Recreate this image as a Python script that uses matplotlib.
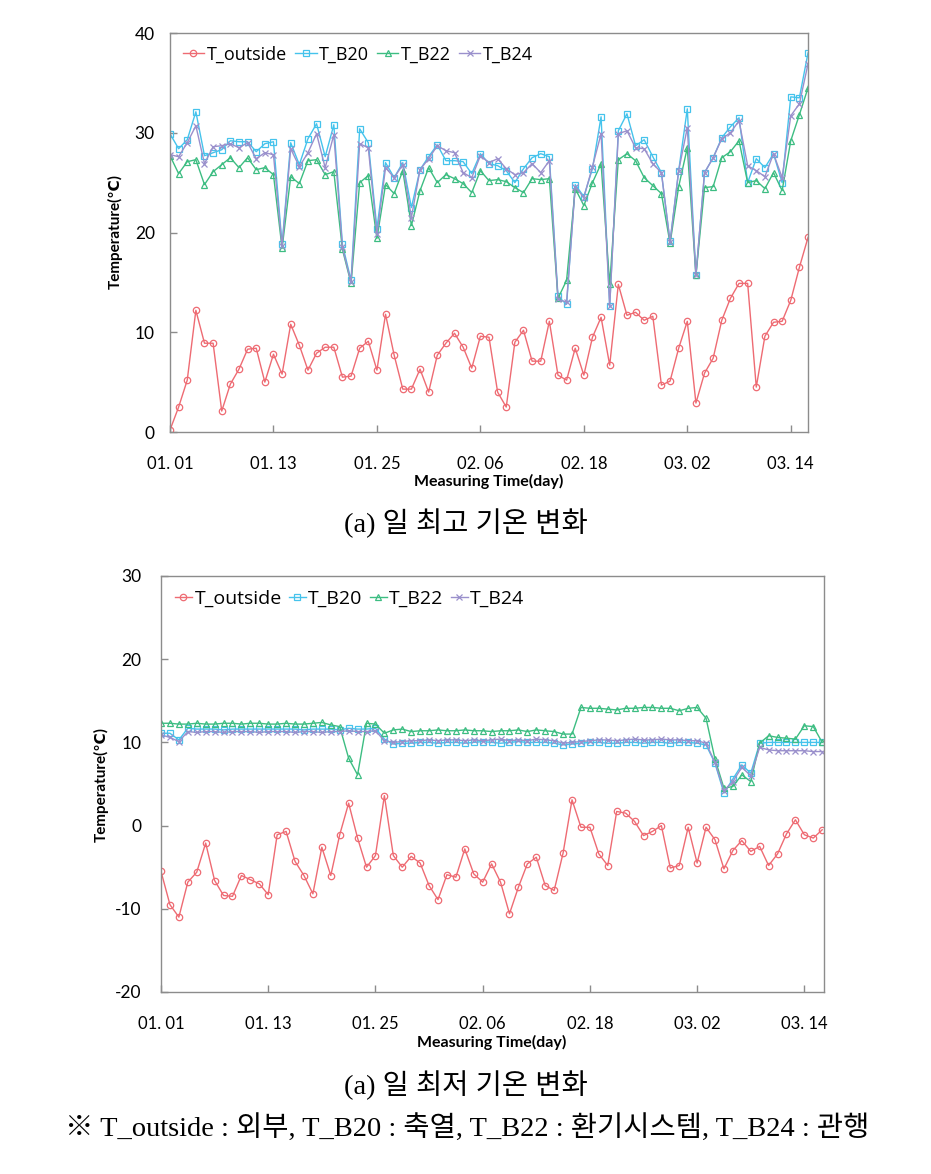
import matplotlib
matplotlib.use("Agg")
import matplotlib.pyplot as plt

# ---------------- data ----------------
tick_labels = ['01. 01', '01. 13', '01. 25', '02. 06', '02. 18', '03. 02', '03. 14']
series_names = ['T_outside', 'T_B20', 'T_B22', 'T_B24']

# (a) daily maximum temperature
max_outside = [0.2, 2.5, 5.2, 12.2, 8.9, 8.9, 2.1, 4.8, 6.3, 8.3,
               8.4, 5.0, 7.8, 5.8, 10.8, 8.7, 6.2, 7.9, 8.5, 8.5,
               5.5, 5.6, 8.4, 9.1, 6.2, 11.8, 7.7, 4.3, 4.3, 6.3,
               4.0, 7.7, 8.9, 9.9, 8.5, 6.4, 9.6, 9.5, 4.0, 2.5,
               9.0, 10.2, 7.1, 7.1, 11.1, 5.7, 5.2, 8.4, 5.7, 9.5,
               11.5, 6.7, 14.8, 11.7, 12.0, 11.2, 11.6, 4.7, 5.1, 8.4,
               11.1, 2.9, 5.9, 7.4, 11.2, 13.4, 14.9, 14.9, 4.5, 9.6,
               11.0, 11.1, 13.2, 16.5, 19.5]
max_b20 = [29.9, 28.4, 29.3, 32.1, 27.7, 28.0, 28.3, 29.2, 29.1, 29.1,
           28.1, 28.9, 29.1, 18.8, 29.0, 26.8, 29.4, 30.9, 27.6, 30.8,
           18.8, 15.2, 30.4, 29.0, 20.4, 27.0, 25.5, 27.0, 22.5, 26.3,
           27.6, 28.8, 27.2, 27.2, 27.1, 25.9, 27.9, 26.9, 26.7, 26.2,
           25.0, 26.4, 27.5, 27.9, 27.6, 13.6, 12.8, 24.8, 23.6, 26.4,
           31.6, 12.6, 30.2, 31.9, 28.7, 29.3, 27.6, 26.0, 19.1, 26.2,
           32.4, 15.7, 26.0, 27.5, 29.5, 30.6, 31.5, 25.0, 27.4, 26.5,
           27.9, 25.0, 33.6, 33.5, 38.0]
max_b22 = [27.7, 25.9, 27.1, 27.3, 24.8, 26.1, 26.8, 27.5, 26.5, 27.5,
           26.3, 26.5, 25.8, 18.4, 25.6, 24.9, 27.2, 27.3, 25.8, 26.1,
           18.3, 14.9, 25.0, 25.7, 19.4, 24.8, 23.9, 26.2, 20.7, 24.2,
           26.5, 25.0, 25.8, 25.4, 24.9, 24.0, 26.2, 25.2, 25.3, 25.1,
           24.5, 24.0, 25.4, 25.3, 25.4, 13.4, 15.2, 24.4, 22.7, 25.0,
           26.9, 14.8, 27.3, 27.9, 27.2, 25.5, 24.7, 23.9, 18.9, 24.6,
           28.5, 15.7, 24.5, 24.6, 27.5, 28.1, 29.2, 25.0, 25.2, 24.4,
           26.0, 24.2, 29.2, 31.8, 34.5]
max_b24 = [27.8, 27.6, 29.0, 30.7, 26.9, 28.6, 28.7, 28.9, 28.5, 29.0,
           27.4, 28.0, 27.8, 18.6, 28.4, 26.6, 28.0, 29.9, 26.5, 29.8,
           18.5, 15.0, 28.9, 28.5, 19.8, 26.5, 25.5, 26.8, 21.5, 26.3,
           27.4, 28.7, 28.2, 28.0, 26.0, 25.5, 27.7, 27.0, 27.4, 26.4,
           25.8, 26.0, 26.9, 26.0, 27.2, 13.3, 13.0, 24.6, 23.5, 26.6,
           29.9, 12.6, 29.9, 30.2, 28.5, 28.4, 26.9, 26.0, 19.0, 26.2,
           30.5, 15.7, 26.0, 27.5, 29.4, 30.0, 31.2, 26.7, 26.2, 25.6,
           27.9, 25.5, 31.7, 32.9, 36.9]

# (b) daily minimum temperature
min_outside = [-5.5, -9.5, -11.0, -6.8, -5.6, -2.1, -6.6, -8.4, -8.5, -6.0,
               -6.5, -7.0, -8.3, -1.1, -0.7, -4.3, -6.0, -8.2, -2.6, -6.0,
               -1.1, 2.7, -1.5, -5.0, -3.6, 3.6, -3.6, -5.0, -3.7, -4.5,
               -7.2, -8.9, -5.9, -6.2, -2.8, -5.8, -6.8, -4.6, -6.8, -10.6,
               -7.4, -4.6, -3.8, -7.2, -7.8, -3.3, 3.1, -0.2, -0.2, -3.4,
               -4.8, 1.7, 1.5, 0.5, -1.2, -0.7, 0.0, -5.1, -4.8, -0.2,
               -4.5, -0.2, -1.7, -5.2, -3.0, -1.8, -3.1, -2.5, -4.8, -3.4,
               -1.0, 0.7, -1.1, -1.5, -0.5]
min_b20 = [11.1, 11.1, 10.3, 11.7, 11.6, 11.6, 11.6, 11.5, 11.6, 11.6,
           11.6, 11.6, 11.6, 11.6, 11.6, 11.6, 11.5, 11.6, 11.6, 11.6,
           11.5, 11.7, 11.6, 11.6, 11.7, 10.4, 9.8, 9.9, 9.9, 10.0,
           10.0, 9.9, 10.0, 10.0, 9.9, 10.0, 10.1, 10.0, 9.9, 10.0,
           10.1, 10.0, 10.0, 10.0, 9.9, 9.7, 9.8, 9.9, 10.0, 10.0,
           9.9, 9.9, 10.0, 10.0, 9.9, 10.0, 10.0, 9.9, 10.0, 10.0,
           9.9, 9.7, 7.5, 3.9, 5.6, 7.3, 6.3, 9.9, 10.0, 10.0,
           10.0, 10.0, 10.0, 10.0, 10.0]
min_b22 = [12.3, 12.3, 12.2, 12.2, 12.3, 12.2, 12.2, 12.3, 12.3, 12.2,
           12.3, 12.3, 12.2, 12.2, 12.3, 12.2, 12.2, 12.3, 12.4, 12.1,
           11.9, 8.1, 6.1, 12.3, 12.2, 11.1, 11.5, 11.6, 11.3, 11.4,
           11.4, 11.5, 11.4, 11.4, 11.5, 11.4, 11.4, 11.3, 11.4, 11.4,
           11.5, 11.3, 11.5, 11.4, 11.3, 11.0, 11.0, 14.2, 14.1, 14.1,
           14.0, 13.9, 14.1, 14.1, 14.2, 14.2, 14.1, 14.1, 13.8, 14.1,
           14.2, 12.9, 8.0, 4.5, 4.7, 6.1, 5.3, 9.9, 10.8, 10.6,
           10.5, 10.4, 12.0, 11.9, 10.0]
min_b24 = [10.9, 10.6, 10.1, 11.3, 11.2, 11.3, 11.3, 11.2, 11.3, 11.3,
           11.3, 11.2, 11.3, 11.3, 11.3, 11.2, 11.3, 11.3, 11.2, 11.3,
           11.3, 11.4, 11.3, 11.3, 11.4, 10.2, 10.0, 10.1, 10.2, 10.2,
           10.3, 10.2, 10.3, 10.3, 10.2, 10.3, 10.2, 10.3, 10.4, 10.2,
           10.3, 10.2, 10.4, 10.3, 10.2, 9.9, 10.0, 10.1, 10.2, 10.3,
           10.3, 10.2, 10.3, 10.4, 10.3, 10.3, 10.4, 10.3, 10.3, 10.2,
           10.2, 9.9, 7.6, 4.2, 5.3, 7.0, 6.0, 9.4, 9.1, 9.0,
           9.0, 9.0, 9.0, 8.9, 8.9]

# ---------------- style ----------------
colors = ['#EE6B73', '#45C3EC', '#3DBD82', '#9A90CC']
markers = ['o', 's', '^', 'x']
axis_gray = '#8C8C8C'
lat_font = ['Lato', 'DejaVu Sans']
kr_font = ['Liberation Serif', 'Noto Sans CJK KR', 'DejaVu Sans']

W, H = 931, 1174
fig = plt.figure(figsize=(W / 100, H / 100), dpi=100)


def box(l, t, r, b):
    return [l / W, 1 - b / H, (r - l) / W, (b - t) / H]


def draw(ax, data, ylim, yticks, xmax, ytick_pad, xtick_pad, leg_size, hl, cs):
    x = list(range(len(data[0])))
    for vals, c, m, name in zip(data, colors, markers, series_names):
        ax.plot(x, vals, color=c, lw=1.0, marker=m, ms=4.6 if m != 'x' else 4.2,
                mfc='none', mec=c, mew=0.9, label=name)
    ax.set_xlim(0, xmax)
    ax.set_ylim(*ylim)
    ax.set_yticks(yticks)
    ax.set_yticklabels([str(v) for v in yticks], family=lat_font, fontsize=12.5)
    ax.set_xticks(list(range(0, 73, 12)))
    ax.set_xticklabels(tick_labels, family=lat_font, fontsize=12)
    for s in ax.spines.values():
        s.set_color(axis_gray)
        s.set_linewidth(1.0)
    ax.tick_params(axis='both', direction='in', length=5, color=axis_gray, width=1.0)
    ax.tick_params(axis='y', pad=ytick_pad)
    ax.tick_params(axis='x', pad=xtick_pad)
    ax.legend(loc='upper left', ncol=4, frameon=False, handlelength=hl,
              handletextpad=0.12, columnspacing=cs,
              prop={'family': 'Open Sans', 'size': leg_size},
              bbox_to_anchor=(0.0, 1.0), borderaxespad=0.3)


ax1 = fig.add_axes(box(170, 33, 808, 432))
draw(ax1, [max_outside, max_b20, max_b22, max_b24], (0, 40), [0, 10, 20, 30, 40], 74,
     11, 17, 13, 1.2, 0.45)

ax2 = fig.add_axes(box(161, 576, 824, 992))
draw(ax2, [min_outside, min_b20, min_b22, min_b24], (-20, 30), [-20, -10, 0, 10, 20, 30], 74.2,
     14, 17, 14, 0.9, 0.35)

# axis titles
fig.text(115 / W, 1 - 232 / H, 'Temperature(℃)', rotation=90, ha='center', va='center',
         family=lat_font, fontsize=11, fontweight='bold')
fig.text(489 / W, 1 - 481 / H, 'Measuring Time(day)', ha='center', va='center',
         family=lat_font, fontsize=11.5, fontweight='bold')
fig.text(101 / W, 1 - 784 / H, 'Temperature(℃)', rotation=90, ha='center', va='center',
         family=lat_font, fontsize=11, fontweight='bold')
fig.text(492 / W, 1 - 1042 / H, 'Measuring Time(day)', ha='center', va='center',
         family=lat_font, fontsize=11.5, fontweight='bold')

# captions
fig.text(466 / W, 1 - 523 / H, '(a) 일 최고 기온 변화', ha='center', va='center',
         family=kr_font, fontsize=20.5)
fig.text(466 / W, 1 - 1085 / H, '(a) 일 최저 기온 변화', ha='center', va='center',
         family=kr_font, fontsize=20.5)
fig.text(467 / W, 1 - 1128 / H, '※ T_outside : 외부, T_B20 : 축열, T_B22 : 환기시스템, T_B24 : 관행',
         ha='center', va='center', family=kr_font, fontsize=20.5)

fig.savefig('out.png', dpi=100)
